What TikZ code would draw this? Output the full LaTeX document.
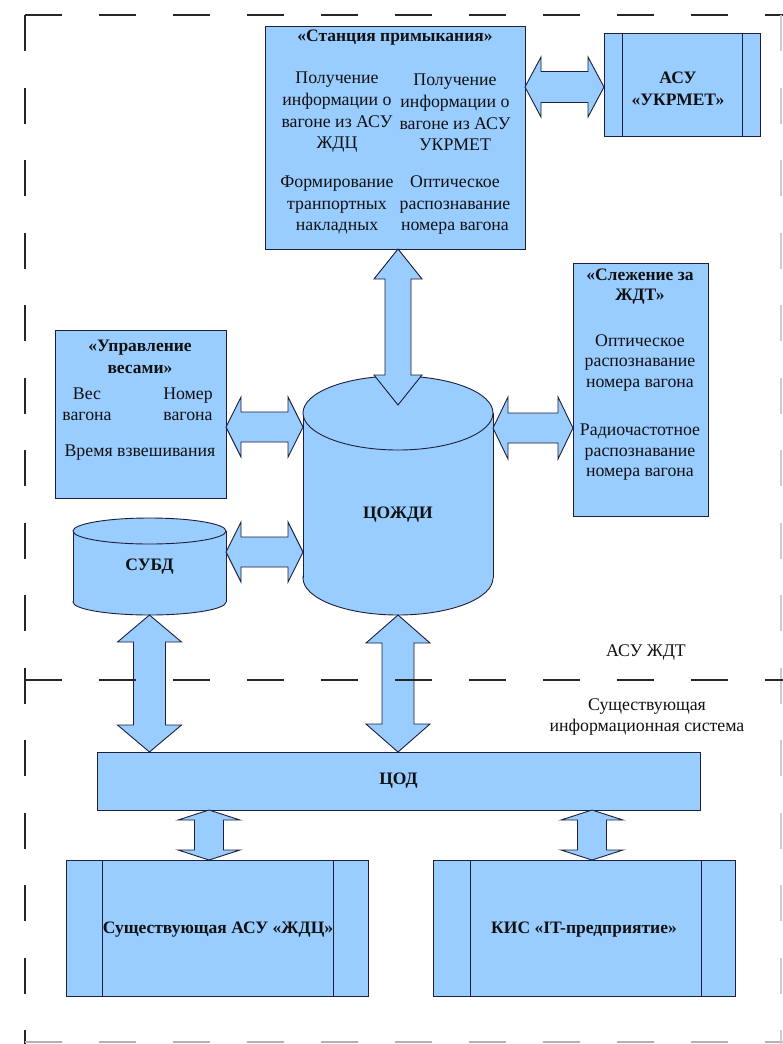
\documentclass[tikz,border=0pt]{standalone}
\usepackage{fontspec}
\setmainfont{Liberation Serif}
\usetikzlibrary{calc}
\definecolor{fillblue}{HTML}{99CCFF}
\definecolor{edge}{HTML}{1F1F3A}
\definecolor{ink}{HTML}{111111}
\newcommand{\hdarrow}[5]{%
  \draw[blk] let \p1=(#1), \p2=(#2) in
    (\x1,\y1) -- (\x1+#5pt,\y1-#3pt) -- (\x1+#5pt,\y1-#4pt) -- (\x2-#5pt,\y1-#4pt)
    -- (\x2-#5pt,\y1-#3pt) -- (\x2,\y1) -- (\x2-#5pt,\y1+#3pt) -- (\x2-#5pt,\y1+#4pt)
    -- (\x1+#5pt,\y1+#4pt) -- (\x1+#5pt,\y1+#3pt) -- cycle;}
\newcommand{\vdarrow}[5]{%
  \draw[blk] let \p1=(#1), \p2=(#2) in
    (\x1,\y1) -- (\x1+#3pt,\y1-#5pt) -- (\x1+#4pt,\y1-#5pt) -- (\x1+#4pt,\y2+#5pt)
    -- (\x1+#3pt,\y2+#5pt) -- (\x1,\y2) -- (\x1-#3pt,\y2+#5pt) -- (\x1-#4pt,\y2+#5pt)
    -- (\x1-#4pt,\y1-#5pt) -- (\x1-#3pt,\y1-#5pt) -- cycle;}
\begin{document}
\begin{tikzpicture}[x=1pt,y=-1pt,
  box/.style={draw=edge,fill=fillblue,line width=0.9pt,inner sep=0pt,outer sep=0pt},
  ghost/.style={inner sep=0pt,outer sep=0pt},
  cyl/.style={draw=edge,fill=fillblue,line width=0.9pt},
  edgeline/.style={draw=edge,line width=0.9pt},
  blk/.style={draw=edge,fill=fillblue,line width=0.9pt,line join=miter},
  txt/.style={font=\fontsize{17.8}{21.7}\selectfont,text=ink,inner sep=0pt,align=center},
  ttl/.style={font=\fontsize{17.5}{22}\selectfont\bfseries,text=ink,inner sep=0pt,align=center},
  hframe/.style={draw=black!85,line width=1.4pt,dash pattern=on 37pt off 37pt},
  vframe/.style={draw=black!85,line width=1.4pt,dash pattern=on 36pt off 36.5pt},
]
\useasboundingbox (0,0) rectangle (783,1044);
\fill[white] (0,0) rectangle (783,1044);

% outer frame
\draw[hframe] (25,15) -- (783,15);
\draw[vframe] (25,15) -- (25,1044);
\draw[hframe,draw=black!30] (25,1042) -- (783,1042);
\draw[vframe,draw=black!20] (781,15) -- (781,1044);

% boxes
\node[box,minimum width=260pt,minimum height=223pt] (st) at (395,137.5) {};
\node[box,minimum width=156pt,minimum height=103pt] (ukr) at (682,84.5) {};
\node[box,minimum width=171pt,minimum height=168pt] (upr) at (140.5,414) {};
\node[box,minimum width=135pt,minimum height=253pt] (sl) at (640.5,389.5) {};
\node[box,minimum width=603pt,minimum height=58pt] (cod) at (398.5,781) {};
\node[box,minimum width=302pt,minimum height=136pt] (b1) at (217,928) {};
\node[box,minimum width=302pt,minimum height=136pt] (b2) at (584,928) {};
\draw[edgeline] ([xshift=18pt]ukr.north west) -- ([xshift=18pt]ukr.south west);
\draw[edgeline] ([xshift=-18pt]ukr.north east) -- ([xshift=-18pt]ukr.south east);
\draw[edgeline] ([xshift=36pt]b1.north west) -- ([xshift=36pt]b1.south west);
\draw[edgeline] ([xshift=-35pt]b1.north east) -- ([xshift=-35pt]b1.south east);
\draw[edgeline] ([xshift=37pt]b2.north west) -- ([xshift=37pt]b2.south west);
\draw[edgeline] ([xshift=-34pt]b2.north east) -- ([xshift=-34pt]b2.south east);

% cylinders
\node[ghost,minimum width=190pt,minimum height=239pt] (cz) at (398,495.5) {};
\filldraw[cyl] (398,578) ellipse [x radius=95, y radius=37];
\fill[fillblue] (303,413) rectangle (493,578);
\draw[edgeline] (303,413) -- (303,578) (493,413) -- (493,578);
\filldraw[cyl] (398,413) ellipse [x radius=95, y radius=37];

\node[ghost,minimum width=153pt,minimum height=97pt] (subd) at (149.5,566.5) {};
\filldraw[cyl] (149.5,602) ellipse [x radius=76.5, y radius=13];
\fill[fillblue] (73,531) rectangle (226,602);
\draw[edgeline] (73,531) -- (73,602) (226,531) -- (226,602);
\filldraw[cyl] (149.5,531) ellipse [x radius=76.5, y radius=13];

% connector end points
\coordinate (p1a) at (st.east |- 0,87);
\coordinate (p1b) at (ukr.west |- 0,87);
\coordinate (p2a) at (cz.north |- st.south);
\coordinate (p2b) at (398,405);
\coordinate (p3a) at (upr.east |- 0,427);
\coordinate (p3b) at (cz.west |- 0,427);
\coordinate (p4a) at (subd.east |- 0,552);
\coordinate (p4b) at (cz.west |- 0,552);
\coordinate (p5a) at (cz.east |- 0,428);
\coordinate (p5b) at (sl.west |- 0,428);
\coordinate (p6a) at (subd.south);
\coordinate (p6b) at (subd.south |- cod.north);
\coordinate (p7a) at (cz.south);
\coordinate (p7b) at (cz.south |- cod.north);
\coordinate (p8a) at (209,0 |- cod.south);
\coordinate (p8b) at (209,0 |- b1.north);
\coordinate (p9a) at (592,0 |- cod.south);
\coordinate (p9b) at (592,0 |- b2.north);

% block arrows
\hdarrow{p1a}{p1b}{30}{15.5}{16}
\vdarrow{p2a}{p2b}{24}{13}{30}
\hdarrow{p3a}{p3b}{30}{15}{15}
\hdarrow{p4a}{p4b}{30}{15}{15}
\hdarrow{p5a}{p5b}{31}{15}{15}
\vdarrow{p6a}{p6b}{32}{16}{27}
\vdarrow{p7a}{p7b}{32}{16}{28}
\vdarrow{p8a}{p8b}{31}{14.5}{10}
\vdarrow{p9a}{p9b}{31}{14.5}{10}

% texts
\node[ttl] (stT) at (395,38) {«Станция примыкания»};
\node[txt] (stL1) at (337,112.5) {Получение\\информации о\\вагоне из АСУ\\ЖДЦ};
\node[txt] (stR1) at (455,112.5) {Получение\\информации о\\вагоне из АСУ\\УКРМЕТ};
\node[txt] (stL2) at (337,205) {Формирование\\транпортных\\накладных};
\node[txt] (stR2) at (455,205) {Оптическое\\распознавание\\номера вагона};
\node[ttl] (ukrT) at (678,89) {АСУ\\«УКРМЕТ»};
\node[ttl] (uprT) at (140,357) {«Управление\\весами»};
\node[txt,font=\fontsize{17.8}{21}\selectfont] (uprA) at (87,404.5) {Вес\\вагона};
\node[txt,font=\fontsize{17.8}{21}\selectfont] (uprB) at (188,404.5) {Номер\\вагона};
\node[txt] (uprC) at (140,453) {Время взвешивания};
\node[ttl,font=\fontsize{17.5}{20}\selectfont\bfseries] (slT) at (640,287) {«Слежение за\\ЖДТ»};
\node[txt,font=\fontsize{17.8}{20.5}\selectfont] (slA) at (640,362.5) {Оптическое\\распознавание\\номера вагона};
\node[txt,font=\fontsize{17.8}{20.5}\selectfont] (slB) at (640,452.5) {Радиочастотное\\распознавание\\номера вагона};
\node[ttl] (czT) at (398,515) {ЦОЖДИ};
\node[ttl] (subdT) at (149.5,567) {СУБД};
\node[ttl] (codT) at (398.5,781) {ЦОД};
\node[ttl] (b1T) at (218,930) {Существующая АСУ «ЖДЦ»};
\node[ttl] (b2T) at (584,930) {КИС «IT-предприятие»};
\node[txt] (lab1) at (646,652) {АСУ ЖДТ};
\node[txt,font=\fontsize{17.8}{21.5}\selectfont] (lab2) at (647,717) {Существующая\\информационная система};

% middle dashed boundary
\draw[hframe] (25,680) -- (783,680);
\end{tikzpicture}
\end{document}
